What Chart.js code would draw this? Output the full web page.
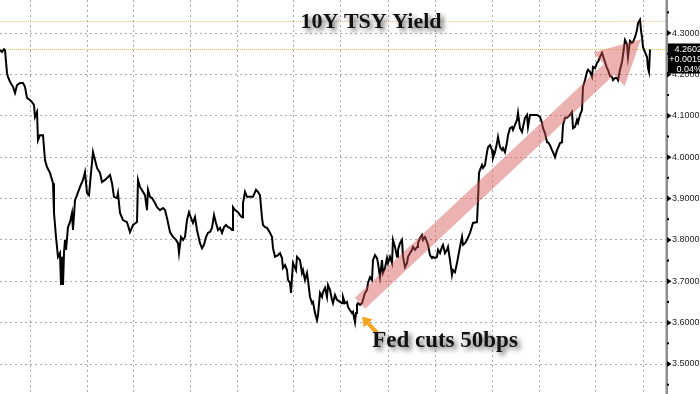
<!DOCTYPE html>
<html lang="en">
<head>
<meta charset="utf-8">
<script src="https://cdn.jsdelivr.net/npm/chart.js"></script>
<style>
    html, body { margin: 0; padding: 0; background: #ffffff; }
    .chart-box { width: 700px; height: 394px; }
</style>
</head>
<body>
<div class="chart-box"><canvas id="yieldChart" width="700" height="394"></canvas></div>
<script>
// time index of each sample (intraday bars) and the 10Y yield
const period = [
    0, 2, 4, 5, 7, 8, 10, 13, 15, 17,
    20, 23, 25, 27, 30, 32, 34, 35, 37, 38,
    40, 43, 45, 47, 50, 53, 54, 56, 58, 60,
    61, 62, 63, 64, 65, 66, 68, 70, 72, 73,
    75, 77, 80, 83, 85, 87, 89, 91, 93, 95,
    97, 100, 102, 105, 108, 110, 112, 114, 117, 118,
    120, 123, 127, 130, 133, 137, 138,
    140, 143, 145, 147, 148, 150, 152, 155, 157, 160,
    163, 165, 167, 170, 173, 176, 178, 179, 181, 183,
    185, 187, 189, 191, 193, 195, 197, 200, 202, 204,
    206, 208, 210, 212, 214, 216, 218, 220, 222, 224,
    226, 228, 230, 232, 233, 235, 238,
    240, 242, 243, 245, 247, 250, 253, 256, 258, 260,
    262, 263, 265, 267, 270, 272, 273, 275, 278, 280,
    282, 283, 285, 287, 288, 290, 291, 292, 293, 296,
    297, 300, 302, 303, 305, 307, 308, 310, 312, 313,
    315, 317, 318, 320, 322, 323, 325, 327, 328, 330,
    332, 333, 335, 337, 340, 342, 343, 345, 347, 348,
    350, 352, 353, 355, 356, 357, 358, 360, 362, 363,
    365, 367, 368, 370, 372, 373, 375, 377, 378, 380,
    382, 383, 385, 387, 388, 390, 392, 393, 395, 397,
    398, 400, 402, 403, 405, 407, 408, 410, 412, 413,
    415, 417, 418, 420, 422, 423, 425, 427, 428, 430,
    432, 433, 435, 437, 438, 440, 442, 443, 445, 447,
    448, 450, 452, 453, 455, 457,
    460, 462, 463, 465, 467, 470, 473, 477, 478, 479,
    480, 482, 483, 485, 487, 488, 490, 492, 493, 495,
    497, 498, 500, 502, 503, 505, 507, 508, 510, 512,
    513, 515, 517, 518, 520, 522, 523, 525, 527, 528,
    530, 533, 537, 540, 542, 543, 545, 547, 548, 550,
    552, 553, 555, 557, 558, 560, 562, 563, 565, 567,
    570, 572, 573, 575, 577, 578, 580, 582, 583, 585,
    587, 588, 590, 592, 593, 595, 597, 598, 600, 602,
    603, 605, 607, 608, 610, 612, 613, 615, 617, 618,
    620, 622, 623, 625, 627, 628, 630, 632, 633, 635,
    637, 638, 640, 641, 642, 643, 645, 647, 648, 649, 650
];
const yields = [
    4.259, 4.254, 4.261, 4.259, 4.203, 4.194, 4.182, 4.170, 4.155, 4.174,
    4.179, 4.179, 4.170, 4.143, 4.138, 4.133, 4.126, 4.097, 4.109, 4.041,
    4.053, 4.053, 3.993, 3.976, 3.962, 3.937, 3.865, 3.807, 3.759, 3.768,
    3.691, 3.759, 3.691, 3.768, 3.800, 3.776, 3.831, 3.843, 3.865, 3.824,
    3.896, 3.908, 3.928, 3.945, 3.964, 3.913, 3.908, 3.962, 4.012, 3.993,
    3.974, 3.962, 3.940, 3.945, 3.952, 3.957, 3.937, 3.904, 3.901, 3.913,
    3.865, 3.848, 3.843, 3.819, 3.836, 3.843, 3.945,
    3.928, 3.916, 3.908, 3.872, 3.921, 3.904, 3.901, 3.889, 3.879, 3.872,
    3.877, 3.872, 3.853, 3.819, 3.807, 3.800, 3.792, 3.768, 3.807, 3.800,
    3.807, 3.848, 3.867, 3.853, 3.841, 3.855, 3.824, 3.792, 3.780, 3.788,
    3.807, 3.817, 3.819, 3.829, 3.860, 3.841, 3.824, 3.829, 3.817, 3.831,
    3.836, 3.831, 3.829, 3.824, 3.879, 3.872, 3.867,
    3.860, 3.855, 3.889, 3.916, 3.904, 3.904, 3.904, 3.921, 3.916, 3.908,
    3.853, 3.836, 3.831, 3.829, 3.817, 3.807, 3.780, 3.759, 3.763, 3.768,
    3.756, 3.732, 3.739, 3.727, 3.703, 3.696, 3.672, 3.710, 3.744, 3.727,
    3.759, 3.751, 3.720, 3.727, 3.703, 3.720, 3.703, 3.662, 3.647, 3.650,
    3.623, 3.606, 3.618, 3.672, 3.662, 3.674, 3.684, 3.662, 3.691, 3.679,
    3.655, 3.647, 3.667, 3.655, 3.650, 3.647, 3.662, 3.647, 3.650, 3.638,
    3.630, 3.623, 3.626, 3.601, 3.623, 3.643, 3.647, 3.643, 3.647, 3.655,
    3.672, 3.679, 3.696, 3.710, 3.703, 3.751, 3.763, 3.756, 3.744, 3.710,
    3.751, 3.720, 3.732, 3.756, 3.744, 3.759, 3.744, 3.800, 3.783, 3.759,
    3.776, 3.792, 3.800, 3.759, 3.734, 3.744, 3.759, 3.768, 3.776, 3.783,
    3.776, 3.783, 3.792, 3.805, 3.812, 3.800, 3.807, 3.795, 3.788, 3.763,
    3.756, 3.759, 3.756, 3.759, 3.776, 3.768, 3.783, 3.788, 3.768, 3.776,
    3.783, 3.751, 3.715, 3.727, 3.722, 3.744,
    3.783, 3.807, 3.788, 3.792, 3.800, 3.817, 3.841, 3.843, 3.896, 3.962,
    3.969, 3.981, 3.974, 3.981, 4.012, 4.024, 4.029, 4.017, 3.998, 4.012,
    4.034, 4.049, 4.024, 4.017, 4.022, 4.012, 4.036, 4.053, 4.070, 4.073,
    4.066, 4.078, 4.090, 4.107, 4.070, 4.061, 4.073, 4.095, 4.102, 4.073,
    4.102, 4.102, 4.102, 4.097, 4.083, 4.070, 4.058, 4.036, 4.036, 4.029,
    4.017, 4.012, 4.000, 4.017, 4.022, 4.034, 4.036, 4.078, 4.095, 4.095,
    4.102, 4.109, 4.070, 4.073, 4.090, 4.083, 4.102, 4.114, 4.170, 4.186,
    4.206, 4.211, 4.206, 4.194, 4.218, 4.215, 4.228, 4.230, 4.242, 4.252,
    4.245, 4.230, 4.215, 4.211, 4.196, 4.194, 4.186, 4.191, 4.191, 4.186,
    4.211, 4.230, 4.247, 4.283, 4.273, 4.242, 4.281, 4.276, 4.278, 4.290,
    4.307, 4.324, 4.332, 4.307, 4.290, 4.266, 4.254, 4.242, 4.215, 4.206, 4.260
];
const weekStarts = [30, 87, 133, 190, 237, 293, 340, 388, 435, 492, 539, 595, 643];
const yTicks = [3.5, 3.6, 3.7, 3.8, 3.9, 4.0, 4.1, 4.2, 4.3];
const yMinorTicks = [3.45, 3.55, 3.65, 3.75, 3.85, 3.95, 4.05, 4.15, 4.25, 4.35];
const refLevels = [4.329, 4.2602];
const refColors = ['#f2c48a', '#d9cc3a'];
const lastQuote = ['4.2602', '+0.0019', '0.04%'];
const titleText = '10Y TSY Yield';
const noteText = 'Fed cuts 50bps';
// trend arrow and note arrow anchors, in data units
const trendFrom = { x: 360, y: 3.647 };
const trendTo = { x: 641, y: 4.285 };
const noteTip = { x: 362, y: 3.614 };
const noteTail = { x: 378, y: 3.573 };
const notePos = { x: 445, y: 3.541 };
const titlePos = { x: 371, y: 4.312 };

const px = (chart, p) => ({
    x: chart.scales.x.getPixelForValue(p.x),
    y: chart.scales.y.getPixelForValue(p.y)
});

const decor = {
    id: 'decor',
    beforeDatasetsDraw(chart) {
        const ctx = chart.ctx, area = chart.chartArea, y = chart.scales.y;
        ctx.save();
        ctx.lineWidth = 1;
        ctx.setLineDash([1, 1]);
        refLevels.forEach((lvl, i) => {
            const yy = Math.round(y.getPixelForValue(lvl)) + 0.5;
            ctx.strokeStyle = refColors[i];
            ctx.beginPath();
            ctx.moveTo(area.left, yy);
            ctx.lineTo(area.right, yy);
            ctx.stroke();
        });
        ctx.restore();
    },
    afterDatasetsDraw(chart) {
        const ctx = chart.ctx;
        // big translucent trend arrow
        const a = px(chart, trendFrom), b = px(chart, trendTo);
        const len = Math.hypot(b.x - a.x, b.y - a.y);
        const ux = (b.x - a.x) / len, uy = (b.y - a.y) / len;
        const nx = -uy, ny = ux;
        const sw = 7.5, hw = 23, hl = 44;
        const hb = { x: b.x - ux * hl, y: b.y - uy * hl };
        ctx.save();
        ctx.fillStyle = 'rgba(212, 84, 84, 0.45)';
        ctx.beginPath();
        ctx.moveTo(a.x + nx * sw, a.y + ny * sw);
        ctx.lineTo(hb.x + nx * sw, hb.y + ny * sw);
        ctx.lineTo(hb.x + nx * hw, hb.y + ny * hw);
        ctx.lineTo(b.x, b.y);
        ctx.lineTo(hb.x - nx * hw, hb.y - ny * hw);
        ctx.lineTo(hb.x - nx * sw, hb.y - ny * sw);
        ctx.lineTo(a.x - nx * sw, a.y - ny * sw);
        ctx.closePath();
        ctx.fill();
        ctx.restore();
    },
    afterDraw(chart) {
        const ctx = chart.ctx, area = chart.chartArea, y = chart.scales.y;
        ctx.save();
        // axis bar, tick markers
        ctx.fillStyle = '#8e8e8e';
        ctx.fillRect(area.right - 1.5, 0, 2.5, chart.height);
        ctx.fillStyle = '#000';
        yTicks.forEach(v => {
            const yy = y.getPixelForValue(v);
            ctx.beginPath();
            ctx.moveTo(area.right, yy - 3);
            ctx.lineTo(area.right + 4.5, yy);
            ctx.lineTo(area.right, yy + 3);
            ctx.closePath();
            ctx.fill();
        });
        yMinorTicks.forEach(v => {
            const yy = y.getPixelForValue(v);
            ctx.fillRect(area.right, yy - 1, 2, 2);
        });

        // last value box
        const ly = y.getPixelForValue(refLevels[1]);
        ctx.fillStyle = '#000';
        ctx.fillRect(area.right + 1, ly - 6, chart.width - area.right, 30);
        ctx.fillStyle = '#fff';
        ctx.font = '9px "Liberation Sans", Arial, sans-serif';
        ctx.textAlign = 'right';
        ctx.textBaseline = 'middle';
        lastQuote.forEach((t, i) => ctx.fillText(t, chart.width + 2, ly + i * 10));

        // note arrow
        const tip = px(chart, noteTip), tail = px(chart, noteTail);
        const d = Math.hypot(tip.x - tail.x, tip.y - tail.y);
        const ux = (tip.x - tail.x) / d, uy = (tip.y - tail.y) / d;
        const hb = { x: tip.x - ux * 9, y: tip.y - uy * 9 };
        ctx.strokeStyle = '#f2a51e';
        ctx.fillStyle = '#f2a51e';
        ctx.lineWidth = 4;
        ctx.beginPath();
        ctx.moveTo(tail.x, tail.y);
        ctx.lineTo(hb.x, hb.y);
        ctx.stroke();
        ctx.beginPath();
        ctx.moveTo(tip.x, tip.y);
        ctx.lineTo(hb.x - uy * 6, hb.y + ux * 6);
        ctx.lineTo(hb.x + uy * 6, hb.y - ux * 6);
        ctx.closePath();
        ctx.fill();

        // title and note with soft shadow
        ctx.shadowColor = 'rgba(0,0,0,0.6)';
        ctx.shadowBlur = 5;
        ctx.shadowOffsetX = 3;
        ctx.shadowOffsetY = 3;
        ctx.fillStyle = '#111';
        ctx.textAlign = 'center';
        ctx.textBaseline = 'alphabetic';
        const tp = px(chart, titlePos);
        ctx.font = 'bold 22px "Liberation Serif", "Times New Roman", serif';
        ctx.fillText(titleText, tp.x, tp.y);
        const np = px(chart, notePos);
        ctx.font = 'bold 23px "Liberation Serif", "Times New Roman", serif';
        ctx.fillText(noteText, np.x, np.y);
        ctx.restore();
    }
};

new Chart(document.getElementById('yieldChart'), {
    type: 'line',
    data: {
        datasets: [{
            data: period.map((p, i) => ({ x: p, y: yields[i] })),
            borderColor: '#000',
            borderWidth: 2,
            pointRadius: 0,
            tension: 0
        }]
    },
    options: {
        responsive: false,
        animation: false,
        layout: { padding: 0 },
        plugins: { legend: { display: false }, tooltip: { enabled: false } },
        scales: {
            x: {
                type: 'linear',
                min: 0,
                max: 667,
                afterBuildTicks: s => { s.ticks = weekStarts.map(v => ({ value: v })); },
                afterFit: s => { s.height = 0; s.paddingLeft = 0; s.paddingRight = 0; },
                ticks: { display: false },
                grid: { color: '#aaaaaa', drawTicks: false, lineWidth: 1 },
                border: { display: false, dash: [2, 3] }
            },
            y: {
                position: 'right',
                min: 3.4275,
                max: 4.3798,
                afterBuildTicks: s => { s.ticks = yTicks.map(v => ({ value: v })); },
                afterFit: s => { s.width = 33; s.paddingTop = 0; s.paddingBottom = 0; },
                ticks: {
                    padding: 5,
                    color: '#222',
                    font: { family: '"Liberation Sans", Arial, sans-serif', size: 9 },
                    callback: v => v.toFixed(4)
                },
                grid: { color: '#aaaaaa', drawTicks: false, lineWidth: 1 },
                border: { display: false, dash: [2, 3] }
            }
        }
    },
    plugins: [decor]
});
</script>
</body>
</html>
